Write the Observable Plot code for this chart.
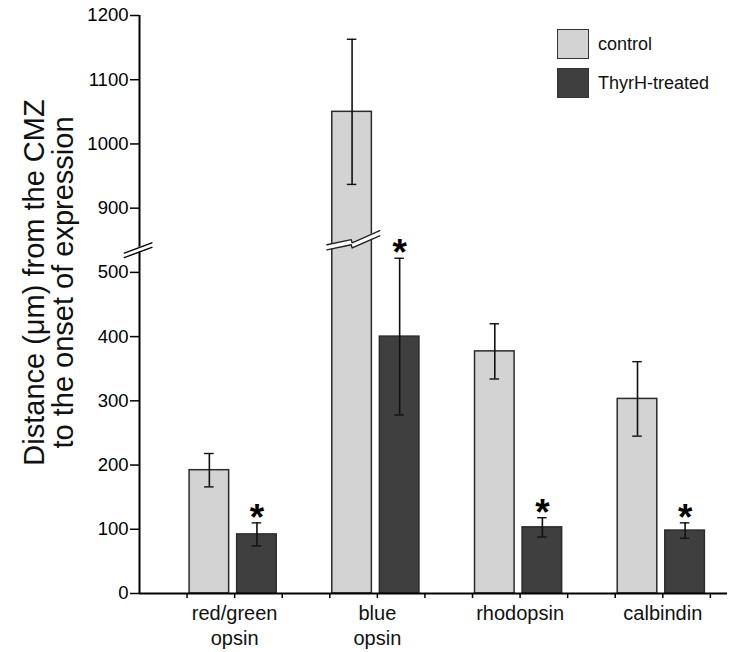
<!DOCTYPE html>
<html>
<head>
<meta charset="utf-8">
<script src="https://cdn.jsdelivr.net/npm/d3@7"></script>
<script src="https://cdn.jsdelivr.net/npm/@observablehq/plot@0.6"></script>
<style>
  html, body { margin: 0; padding: 0; background: #fff; }
  #wrap { position: relative; width: 730px; height: 652px; font-family: "Liberation Sans", Arial, Helvetica, sans-serif; }
  .legend { position: absolute; left: 557px; top: 29px; font-size: 18px; color: #111; }
  .legend .row { display: flex; align-items: center; height: 30px; margin-bottom: 9px; }
  .legend .sw { width: 32px; height: 30px; box-sizing: border-box; border: 1.5px solid #333; margin-right: 9px; }
</style>
</head>
<body>
<div id="wrap"></div>
<script>
// ---- data ----
const categories = ["red/green\nopsin", "blue\nopsin", "rhodopsin", "calbindin"];
const groups = ["control", "ThyrH-treated"];
const groupColors = ["#d3d3d3", "#3f3f3f"];
const controlMean = [192, 1050, 377, 303];
const controlErr  = [26, 113, 43, 58];
const treatedMean = [92, 400, 103, 98];
const treatedErr  = [18, 122, 15, 12];
const significant = [true, true, true, true];
const yTickValues = [0, 100, 200, 300, 400, 500, 900, 1000, 1100, 1200];
const yTitle = "Distance (\u03bcm) from the CMZ\nto the onset of expression";

// broken axis: 500..900 compressed into one 100-unit step
const breakLow = 500, breakHigh = 900;
const gap = breakHigh - breakLow - 100;
const tf = v => (v >= breakHigh ? v - gap : v);
const yTop = tf(1200);

// bar layout: 3 slots per category (control, treated, spacer)
const rows = categories.flatMap((c, i) => [
  {cat: c, group: groups[0], slot: 3 * i,     mean: controlMean[i], err: controlErr[i], sig: false},
  {cat: c, group: groups[1], slot: 3 * i + 1, mean: treatedMean[i], err: treatedErr[i], sig: significant[i]}
]);
const xMin = -1, xMax = 11.36;

// break-glyph shapes (x in slots relative to bar centre, y in axis units relative to break level)
const barBreakDx = [-0.56, -0.05, -0.03, 0.55];
const barBreakUp = [-6, 2, -3, 16];
const barBreakLo = [-14, -6, -11, 8];
const barBreakLevel = 549;
const axisBreakDx = [-0.32, 0.26];
const axisBreakUp = [-8, 8];
const axisBreakLo = [-15, 1];
const axisBreakLevel = 538;

const tallRow = rows.find(d => tf(d.mean) > barBreakLevel);
const bc = tallRow.slot + 0.5;
const barBreak = barBreakDx.map((dx, i) => ({x: bc + dx, up: barBreakLevel + barBreakUp[i], lo: barBreakLevel + barBreakLo[i]}));
const axisBreak = axisBreakDx.map((dx, i) => ({x: xMin + dx, up: axisBreakLevel + axisBreakUp[i], lo: axisBreakLevel + axisBreakLo[i]}));

const tickLabel = new Map(yTickValues.map(v => [tf(v), String(v)]));
const caps = rows.flatMap(d => [tf(d.mean - d.err), tf(d.mean + d.err)].map(y => ({slot: d.slot, y})));

const chart = Plot.plot({
  width: 730,
  height: 652,
  marginLeft: 139,
  marginRight: 3,
  marginTop: 15,
  marginBottom: 59,
  style: {fontFamily: '"Liberation Sans", Arial, Helvetica, sans-serif', background: "white", color: "#000"},
  x: {domain: [xMin, xMax]},
  y: {domain: [0, yTop]},
  color: {domain: groups, range: groupColors},
  marks: [
    Plot.rect(rows, {x1: "slot", x2: d => d.slot + 1, y1: 0, y2: d => tf(d.mean), fill: "group",
      stroke: "#2b2b2b", strokeWidth: 1.5, insetLeft: 2.5, insetRight: 5.5}),
    Plot.ruleX(rows, {x: d => d.slot + 0.5, y1: d => tf(d.mean - d.err), y2: d => tf(d.mean + d.err),
      stroke: "#111", strokeWidth: 1.6, dx: -1.5}),
    Plot.ruleY(caps, {y: "y", x1: d => d.slot + 0.4, x2: d => d.slot + 0.6, stroke: "#111", strokeWidth: 1.4, dx: -1.5}),
    // bar break
    Plot.areaY(barBreak, {x: "x", y1: "lo", y2: "up", fill: "white"}),
    Plot.line(barBreak, {x: "x", y: "up", stroke: "#222", strokeWidth: 1.4}),
    Plot.line(barBreak, {x: "x", y: "lo", stroke: "#222", strokeWidth: 1.4}),
    // stars
    Plot.text(rows.filter(d => d.sig), {x: d => d.slot + 0.5, y: d => tf(d.mean + d.err), text: () => "*",
      fontSize: 37, fontWeight: "bold", dy: -5, dx: -1.5, fill: "#000"}),
    // axes
    Plot.axisY({ticks: yTickValues.map(tf), tickFormat: d => tickLabel.get(d), tickSize: 9, tickPadding: 2,
      fontSize: 18.5, strokeWidth: 1.5, label: null}),
    Plot.axisX({ticks: d3.range(0, 12), tickFormat: () => "", tickSize: 5, strokeWidth: 1.5, label: null}),
    Plot.ruleX([xMin], {y1: 0, y2: yTop, stroke: "#000", strokeWidth: 2}),
    Plot.ruleY([0], {x1: xMin, x2: xMax, stroke: "#000", strokeWidth: 2}),
    // axis break
    Plot.areaY(axisBreak, {x: "x", y1: "lo", y2: "up", fill: "white"}),
    Plot.line(axisBreak, {x: "x", y: "up", stroke: "#000", strokeWidth: 1.4}),
    Plot.line(axisBreak, {x: "x", y: "lo", stroke: "#000", strokeWidth: 1.4}),
    // category labels
    Plot.text(categories, {x: (d, i) => 3 * i + 1, y: 0, text: d => d, lineAnchor: "top", dy: 9,
      fontSize: 20, lineHeight: 1.25, fill: "#111"}),
    // y title
    Plot.text([yTitle], {frameAnchor: "left", text: d => d, rotate: -90, dx: -90, dy: -22,
      fontSize: 29, lineHeight: 0.97, textAnchor: "middle", fill: "#111"})
  ]
});

const wrap = document.getElementById("wrap");
wrap.appendChild(chart);
const legend = document.createElement("div");
legend.className = "legend";
groups.forEach((g, i) => {
  const row = document.createElement("div");
  row.className = "row";
  const sw = document.createElement("div");
  sw.className = "sw";
  sw.style.background = groupColors[i];
  const label = document.createElement("span");
  label.textContent = g;
  row.appendChild(sw);
  row.appendChild(label);
  legend.appendChild(row);
});
wrap.appendChild(legend);
</script>
</body>
</html>
